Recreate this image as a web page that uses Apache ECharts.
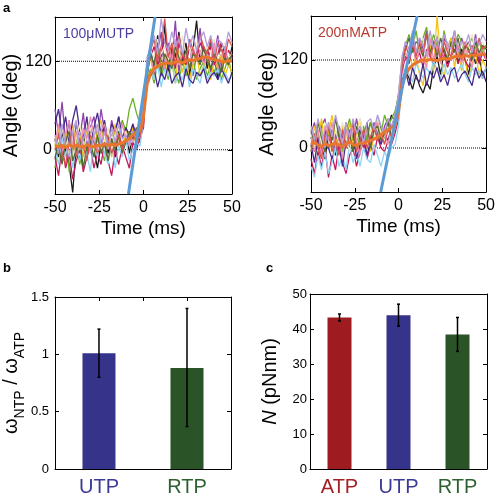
<!DOCTYPE html>
<html><head><meta charset="utf-8">
<script src="https://cdn.jsdelivr.net/npm/echarts@6/dist/echarts.min.js"></script>
<style>html,body{margin:0;padding:0;background:#fff}#c{width:498px;height:497px}</style>
</head><body><div id="c"></div><script>
// ---------- Panel a: time axis ----------
const timeMs = [-50,-48,-46,-44,-42,-40,-38,-36,-34,-32,-30,-28,-26,-24,-22,-20,-18,-16,-14,-12,-10,-8,-6,-4,-2,0,2,4,6,8,10,12,14,16,18,20,22,24,26,28,30,32,34,36,38,40,42,44,46,48,50];
const angleTicks = [0, 120];
const traceColors = ['#1a1a1a','#8e44ad','#6ab023','#f1c40f','#c2185b','#8fd3f4','#4a2a8a','#ece8c4','#f08cb0','#556b2f','#d9534f','#b39ddb'];

// left panel (100 µM UTP) traces
const uL1 = [15,-10,25,0,-20,-58,5,-15,20,-5,30,0,-25,10,35,-5,15,-10,25,5,30,-5,20,10,35, 45,100,135,110,155,120,170,105,140,125,160,115,145,100,135,175,120,140,110,150,125,95,145,130,115,140];
const uL2 = [55,20,65,10,40,-5,35,15,50,0,30,45,10,55,25,5,40,20,45,10,30,15,35,20,10, 50,115,140,95,130,160,110,145,120,175,105,135,115,150,100,130,165,115,140,105,130,155,110,140,120,130];
const uL3 = [-25,10,-15,20,-30,5,15,-20,10,-10,20,-5,25,0,-15,15,30,5,20,40,25,55,70,50,35, 60,95,110,90,120,100,115,95,125,105,90,120,100,115,125,95,110,120,100,115,105,120,95,110,125,100];
const uL4 = [5,30,-5,25,10,35,0,20,-10,30,15,-5,25,40,5,20,-10,35,15,0,25,10,30,5,15, 35,105,125,95,140,110,130,100,120,90,135,105,125,95,115,130,100,115,125,95,120,110,130,100,115,105];
const uL5 = [-10,-35,5,-25,-5,-40,-15,0,-30,-10,5,-25,-5,-20,10,-15,-35,0,-20,5,-10,-25,10,0,15, 30,110,125,140,115,130,150,120,135,110,145,125,115,140,130,120,145,135,125,140,115,130,145,120,135,125];
const uL6 = [0,-20,15,-10,20,-25,5,-15,10,-5,-30,15,-10,20,-5,-20,10,-25,5,-10,15,-15,0,10,5, 40,90,105,95,115,85,110,100,120,90,105,95,115,85,110,100,90,115,95,105,100,110,90,105,95,100];
const uL7 = [35,55,20,45,10,40,60,25,15,45,5,30,50,20,40,10,35,25,45,15,30,20,35,10,25, 55,90,100,110,85,105,95,115,90,100,105,85,110,95,90,105,100,110,90,100,105,95,110,100,90,105];
const uL8 = [20,-5,30,5,25,-10,15,35,0,20,30,-5,15,25,5,30,0,20,35,10,25,5,15,30,20, 45,115,135,125,150,130,140,120,145,135,125,155,130,140,120,145,135,125,140,130,150,120,135,145,125,130];
const uL9 = [10,35,-5,20,40,5,25,0,30,15,45,20,0,25,35,10,20,30,5,35,15,25,10,30,20, 55,120,130,105,145,125,110,140,120,150,115,130,125,110,140,120,135,115,130,120,145,110,125,135,115,125];
const uL10 = [-10,5,-20,10,25,-15,0,15,-25,5,10,-10,20,-5,10,-15,15,0,20,-5,10,25,15,30,20, 40,100,130,115,145,105,130,120,110,140,125,115,135,110,130,125,115,140,120,110,130,120,105,125,115,130];
const uL11 = [0,20,-5,-20,10,25,-10,15,5,-15,20,10,-5,5,25,15,-5,10,20,0,15,5,25,10,20, 35,110,135,150,120,140,178,125,145,115,155,130,120,150,135,125,155,140,130,150,120,145,135,125,150,140];
const uL12 = [20,-5,35,5,-10,25,40,0,15,30,-5,20,35,5,25,0,30,10,35,15,20,5,25,15,30, 65,125,140,155,130,178,145,135,160,140,150,130,165,140,155,135,150,160,140,155,130,150,145,135,160,145];
const meanUTP = [5,4,6,3,7,4,6,5,3,7,5,4,6,5,8,6,7,6,8,9,12,15,20,24,26, 45,88,104,110,113,116,117,118,117,119,120,118,120,122,121,123,124,126,125,124,122,121,120,119,121,120];
const fitUTP = [[-8.5,-60],[6.5,180]];

// right panel (200 nM ATP) traces
const aR1 = [15,-5,25,0,-15,20,5,-10,15,30,0,20,-5,10,25,5,15,35,20,40,25,10,30,45,35, 65,90,105,95,80,100,85,75,90,80,110,125,100,135,115,125,145,115,135,120,100,130,115,125,95,110];
const aR2 = [20,35,0,30,40,5,25,-5,30,15,0,25,10,40,15,0,30,10,35,20,5,30,40,25,45, 75,120,145,130,155,125,150,135,160,125,145,155,120,150,135,140,160,125,150,135,145,130,155,120,140,135];
const aR3 = [-5,20,-15,25,5,35,-10,15,30,-5,20,40,10,25,-5,30,10,35,15,40,20,45,30,40,50, 70,120,140,155,135,160,130,150,165,135,155,140,125,160,135,150,140,155,145,125,140,150,135,145,130,140];
const aR4 = [0,30,10,40,5,20,45,15,-5,30,10,35,0,20,40,10,30,-5,15,35,20,5,30,15,25, 60,115,95,130,110,125,100,85,120,140,105,180,120,95,130,150,110,135,105,125,90,115,130,100,120,110];
const aR5 = [-15,-35,-5,-25,0,-40,-10,-30,5,-20,-35,-10,0,-25,-5,10,-15,5,-10,15,0,-5,10,5,20, 40,105,125,115,140,120,130,110,135,125,115,140,120,130,110,125,135,115,130,120,110,125,135,115,130,120];
const aR6 = [-25,-40,-10,-30,-5,-35,-20,0,-25,-10,-30,5,-20,-5,-25,0,-15,-20,5,-10,-25,-5,-15,0,5, 30,95,110,100,90,115,105,95,110,100,120,105,95,115,100,110,95,105,115,100,90,110,100,105,95,110];
const aR7 = [5,-20,15,-10,25,0,-15,20,5,-25,10,0,25,-15,5,20,-10,10,25,15,5,20,10,30,25, 55,90,105,85,110,95,90,115,85,105,95,110,90,100,85,105,110,90,100,105,95,85,110,95,105,90];
const aR8 = [20,0,30,5,35,10,-10,25,5,35,15,-5,30,10,40,20,0,25,15,40,20,10,30,25,35, 70,125,145,130,155,135,140,150,125,145,135,160,130,145,140,125,150,135,145,130,140,155,130,140,145,135];
const aR9 = [15,-5,25,-10,30,10,35,0,15,-15,25,5,30,10,-10,20,30,0,25,35,10,20,5,30,25, 55,110,130,120,145,115,135,125,110,150,120,140,115,130,145,120,125,140,115,135,125,110,135,125,140,120];
const aR10 = [25,5,35,15,-5,30,10,40,15,0,35,20,-5,30,10,15,35,0,25,30,10,20,35,15,30, 60,115,135,150,130,145,140,125,155,130,145,125,150,135,120,145,130,150,125,140,135,120,145,130,140,135];
const aR11 = [-5,20,0,-15,15,30,-5,10,-10,25,0,15,35,-5,10,25,0,15,30,10,20,5,25,15,30, 45,115,140,125,150,125,145,130,155,125,140,150,120,145,130,125,150,135,120,145,130,140,125,150,135,140];
const aR12 = [30,10,40,20,0,35,15,45,25,5,35,15,40,20,30,5,35,40,25,45,30,20,40,30,45, 70,125,145,135,160,130,150,140,125,160,135,150,130,155,140,135,160,130,145,140,155,130,150,140,155,145];
const meanATP = [5,8,4,2,6,3,5,7,4,2,6,8,5,3,7,6,9,10,12,15,18,22,25,28,30, 50,85,100,108,113,116,118,120,119,121,120,119,121,122,121,123,124,125,124,126,125,127,126,127,128,128];
const fitATP = [[-10.2,-60],[10.6,180]];

// ---------- Panel b ----------
const bCats = ['UTP', 'RTP'];
const bRatio = [1.01, 0.88];
const bLow = [0.80, 0.37];
const bHigh = [1.22, 1.40];
const bColors = ['#35338a', '#2a5427'];
const bLabelColors = ['#3b3a96', '#2f5f2f'];

// ---------- Panel c ----------
const cCats = ['ATP', 'UTP', 'RTP'];
const cTorque = [43.3, 43.9, 38.4];
const cLow = [42.3, 40.8, 33.6];
const cHigh = [44.3, 47.1, 43.3];
const cColors = ['#9e1c1f', '#35338a', '#2a5427'];
const cLabelColors = ['#a51f24', '#3b3a96', '#2f5f2f'];

const FONT = 'Liberation Sans, Arial, Helvetica, sans-serif';
const leftTraces = [uL1,uL2,uL3,uL4,uL5,uL6,uL7,uL8,uL9,uL10,uL11,uL12];
const rightTraces = [aR1,aR2,aR3,aR4,aR5,aR6,aR7,aR8,aR9,aR10,aR11,aR12];
const zip = v => timeMs.map((t, i) => [t, v[i]]);

function timeX(grid, top) {
  return {
    gridIndex: grid, type: 'value', min: -50, max: 50, interval: 25, position: top ? 'top' : 'bottom',
    axisLine: { show: true, onZero: false, lineStyle: { color: '#000', width: 1 } },
    axisTick: { show: true, inside: true, length: 4, lineStyle: { color: '#000' } },
    axisLabel: { show: !top, fontSize: 16, color: '#000', margin: 6, fontFamily: FONT },
    splitLine: { show: false },
    name: top ? '' : 'Time (ms)', nameLocation: 'middle', nameGap: 25,
    nameTextStyle: { fontSize: 19, color: '#000', fontFamily: FONT }
  };
}
function angleY(grid, right, gap) {
  return {
    gridIndex: grid, type: 'value', min: -60, max: 180, position: right ? 'right' : 'left',
    axisLine: { show: true, onZero: false, lineStyle: { color: '#000', width: 1 } },
    axisTick: { show: true, inside: true, length: 4, customValues: angleTicks, lineStyle: { color: '#000' } },
    axisLabel: { show: !right, customValues: angleTicks, fontSize: 16, color: '#000', margin: 3, fontFamily: FONT },
    splitLine: { show: false },
    name: right ? '' : 'Angle (deg)', nameLocation: 'middle', nameGap: gap, nameRotate: 90,
    nameTextStyle: { fontSize: 20, color: '#000', fontFamily: FONT }
  };
}
function frameAxis(grid, pos, min, max, interval, ticks) {
  return {
    gridIndex: grid, type: 'value', min: min, max: max, interval: interval, position: pos,
    axisLine: { show: true, onZero: false, lineStyle: { color: '#000', width: 1 } },
    axisTick: { show: ticks, inside: true, length: 4, lineStyle: { color: '#000' } },
    axisLabel: { show: false }, splitLine: { show: false }
  };
}
function catX(grid, cats, colors) {
  return {
    gridIndex: grid, type: 'category', data: cats, position: 'bottom',
    axisLine: { show: true, lineStyle: { color: '#000', width: 1 } },
    axisTick: { show: false },
    axisLabel: { fontSize: 20, margin: 8, fontFamily: FONT, color: (v, i) => colors[cats.indexOf(v)] }
  };
}

const series = [];
function panelA(xi, yi, traces, mean, fit) {
  angleTicks.forEach(v => series.push({
    type: 'line', xAxisIndex: xi, yAxisIndex: yi, showSymbol: false, silent: true, z: 1,
    data: [[-50, v], [50, v]], lineStyle: { color: '#000', width: 1, type: [1, 1] }
  }));
  traces.forEach((tr, k) => series.push({
    type: 'line', xAxisIndex: xi, yAxisIndex: yi, showSymbol: false, silent: true, z: 2,
    data: zip(tr), lineStyle: { color: traceColors[k], width: 1.3 }
  }));
  series.push({ type: 'line', xAxisIndex: xi, yAxisIndex: yi, showSymbol: false, silent: true, z: 3,
    data: zip(mean), lineStyle: { color: '#e8762d', width: 3 } });
  series.push({ type: 'line', xAxisIndex: xi, yAxisIndex: yi, showSymbol: false, silent: true, z: 4, clip: true,
    data: fit, lineStyle: { color: '#5b9bd5', width: 3 } });
}
panelA(0, 0, leftTraces, meanUTP, fitUTP);
panelA(2, 2, rightTraces, meanATP, fitATP);

function errBars(xi, yi, low, high, cap) {
  return {
    type: 'custom', xAxisIndex: xi, yAxisIndex: yi, z: 5, silent: true,
    data: low.map((l, i) => [i, l, high[i]]),
    renderItem: (params, api) => {
      const a = api.coord([api.value(0), api.value(1)]);
      const b = api.coord([api.value(0), api.value(2)]);
      const st = { stroke: '#000', lineWidth: 1.5 };
      return { type: 'group', children: [
        { type: 'line', shape: { x1: a[0], y1: a[1], x2: b[0], y2: b[1] }, style: st },
        { type: 'line', shape: { x1: a[0] - cap, y1: a[1], x2: a[0] + cap, y2: a[1] }, style: st },
        { type: 'line', shape: { x1: b[0] - cap, y1: b[1], x2: b[0] + cap, y2: b[1] }, style: st }
      ] };
    }
  };
}
series.push({ type: 'bar', xAxisIndex: 4, yAxisIndex: 4, barWidth: 33, silent: true,
  data: bRatio.map((v, i) => ({ value: v, itemStyle: { color: bColors[i] } })) });
series.push(errBars(4, 4, bLow, bHigh, 1.5));
series.push({ type: 'bar', xAxisIndex: 6, yAxisIndex: 6, barWidth: 24, silent: true,
  data: cTorque.map((v, i) => ({ value: v, itemStyle: { color: cColors[i] } })) });
series.push(errBars(6, 6, cLow, cHigh, 1.5));

const option = {
  animation: false,
  backgroundColor: '#fff',
  textStyle: { fontFamily: FONT },
  grid: [
    { left: 55, top: 17, width: 177, height: 177 },
    { left: 311, top: 16, width: 176, height: 176 },
    { left: 54, top: 297, width: 177, height: 176 },
    { left: 310, top: 294, width: 177, height: 178 }
  ],
  xAxis: [
    timeX(0, false), timeX(0, true),
    timeX(1, false), timeX(1, true),
    catX(2, bCats, bLabelColors), frameAxis(2, 'top', 0, 4, 1, true),
    catX(3, cCats, cLabelColors), frameAxis(3, 'top', 0, 3, 1, false)
  ],
  yAxis: [
    angleY(0, false, 28), angleY(0, true, 0),
    angleY(1, false, 33), angleY(1, true, 0),
    {
      gridIndex: 2, type: 'value', min: 0, max: 1.5, interval: 0.5,
      axisLine: { show: true, lineStyle: { color: '#000' } },
      axisTick: { show: true, inside: true, length: 4, lineStyle: { color: '#000' } },
      axisLabel: { fontSize: 13, color: '#000', margin: 6, fontFamily: FONT },
      splitLine: { show: false },
      name: '{w|ω}{s|NTP}{w| / ω}{s|ATP}', nameLocation: 'middle', nameGap: 26, nameRotate: 90,
      nameTextStyle: { fontSize: 20, color: '#000', fontFamily: FONT,
        rich: { w: { fontSize: 20, fontFamily: FONT, color: '#000', verticalAlign: 'top', lineHeight: 26 },
                s: { fontSize: 14, fontFamily: FONT, color: '#000', verticalAlign: 'bottom', lineHeight: 26 } } }
    },
    frameAxis(2, 'right', 0, 1.5, 0.5, true),
    {
      gridIndex: 3, type: 'value', min: 0, max: 50, interval: 10,
      axisLine: { show: true, lineStyle: { color: '#000' } },
      axisTick: { show: true, inside: true, length: 4, lineStyle: { color: '#000' } },
      axisLabel: { fontSize: 13, color: '#000', margin: 3, fontFamily: FONT },
      splitLine: { show: false },
      name: '{i|N} (pNnm)', nameLocation: 'middle', nameGap: 30, nameRotate: 90,
      nameTextStyle: { fontSize: 20, color: '#000', fontFamily: FONT,
        rich: { i: { fontSize: 20, fontStyle: 'italic', fontFamily: FONT, color: '#000' } } }
    },
    frameAxis(3, 'right', 0, 50, 10, true)
  ],
  graphic: [
    { type: 'text', left: 3, top: 2, style: { text: 'a', font: 'bold 13px ' + FONT, fill: '#000' } },
    { type: 'text', left: 3, top: 262, style: { text: 'b', font: 'bold 13px ' + FONT, fill: '#000' } },
    { type: 'text', left: 266, top: 262, style: { text: 'c', font: 'bold 13px ' + FONT, fill: '#000' } },
    { type: 'text', left: 63, top: 27, z: 10, style: { text: '100μMUTP', font: '14px ' + FONT, fill: '#4a3f9f' } },
    { type: 'text', left: 318, top: 26, z: 10, style: { text: '200nMATP', font: '14px ' + FONT, fill: '#b83a30' } }
  ],
  series: series
};
const chart = echarts.init(document.getElementById('c'), null, { renderer: 'canvas' });
chart.setOption(option);
</script></body></html>
